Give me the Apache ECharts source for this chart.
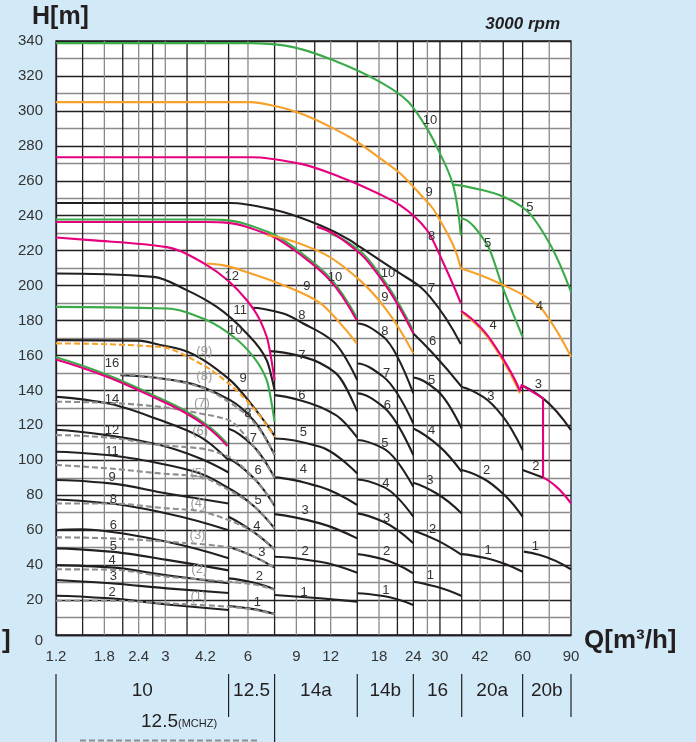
<!DOCTYPE html>
<html><head><meta charset="utf-8">
<script src="https://cdn.jsdelivr.net/npm/echarts@6/dist/echarts.min.js"></script>
<style>html,body{margin:0;padding:0;background:#d2eaf8;}#c{width:696px;height:742px;}</style>
</head><body><div id="c"></div>
<script>
// ---------- axis / grid data ----------
const Q_TICKS = [1.2,1.8,2.4,3,4.2,6,9,12,18,24,30,42,60,90];
const Q_TICK_LABELS = ['1.2','1.8','2.4','3','4.2','6','9','12','18','24','30','42','60','90'];
const Q_GRID_DARK = [1.5,2.1,2.7,3.6,5.1,7.5,10.5,15,21,24,30,36,51,60];
const Q_GRID_LIGHT = [1.8,2.4,3,4.2,6,9,12,18,27,42,75];
const FAMILY_NAMES = ['10','12.5','14a','14b','16','20a','20b'];
const FAMILY_BOUNDS = [1.2,5.1,7.5,15,24,36,60,90];

// ---------- curves [Q m3/h, H m] ----------
const F10_2 = [[1.2,22.5],[1.89,21],[3.04,17.5],[5.1,14.3]];
const F10_3 = [[1.2,31.5],[1.89,29.6],[3.04,26.7],[5.1,24]];
const F10_4 = [[1.2,40],[1.89,38.7],[3.04,34.2],[5.1,29.6]];
const F10_5 = [[1.2,49.6],[1.89,47.7],[3.04,43],[5.1,37]];
const F10_6 = [[1.2,60],[1.5,60.5],[1.89,59.1],[3.04,53.4],[5.1,44]];
const F10_8 = [[1.2,77.6],[1.89,75.3],[3.04,69.6],[5.1,60]];
const F10_9 = [[1.2,88.7],[1.89,86.8],[3.04,81],[5.1,75.3]];
const F10_11 = [[1.2,104.9],[1.84,103],[2.87,98.2],[4.02,92.5],[5.1,84]];
const F10_12 = [[1.2,117.5],[1.84,114.4],[2.87,108.7],[4.02,101],[5.1,93]];
const F10_14 = [[1.2,136.3],[1.84,132.6],[2.87,123],[4.02,113.4],[5.1,100]];
const F10_16G = [[1.2,159],[1.84,149],[2.87,135.5],[3.49,129],[4.25,120.3],[5.05,109.5]];
const F10_16P = [[1.2,157.7],[1.84,147.8],[2.87,134.4],[3.49,127.8],[4.25,119.2],[5.05,108.2]];

const F125_1 = [[5.1,16.6],[6.28,14.8],[7.5,12]];
const F125_2 = [[5.1,32.4],[6.28,30],[7.5,26.1]];
const F125_3 = [[5.1,50.5],[6.28,45],[7.5,38.6]];
const F125_4 = [[5.1,67.7],[6.28,59],[7.5,49]];
const F125_5 = [[5.1,84],[6.28,74],[7.5,61]];
const F125_6 = [[5.1,101],[6.28,90],[7.5,74]];
const F125_7 = [[5.1,118],[6.28,108],[7.5,90]];
const F125_8 = [[2.06,148.7],[3.49,144.9],[5.17,134.4],[6.28,123],[7.5,103]];
const F125_9 = [[1.2,168.8],[2.4,168.5],[2.87,166],[3.49,163],[5.17,145.9],[6.28,130.6],[7.5,114]];
const F125_10G = [[1.2,187.8],[3.04,186.9],[4.25,180.2],[5.31,170.7],[6.28,159.2],[7.02,145.9],[7.5,122]];
const F125_11 = [[1.2,206.9],[2.72,205],[3.59,197.4],[4.62,187.8],[5.94,172.6],[7.02,157.3],[7.5,140.2]];
const F125_12P = [[1.2,227.5],[1.6,226],[3.04,222],[4.25,211.7],[5.94,191.6],[7.02,170.7],[7.5,145.9]];

const MCHZ_1 = [[1.2,19.6],[1.89,19.6],[3.04,18.1],[5.1,16.2],[6.28,14.5],[7.5,11.8]];
const MCHZ_2 = [[1.2,37.6],[1.89,37.4],[3.04,33.4],[5.1,30.5],[6.28,29],[7.5,25.8]];
const MCHZ_3 = [[1.2,55.9],[1.89,55.3],[3.04,53.4],[5.1,50.2],[6.28,45],[7.5,38.5]];
const MCHZ_4 = [[1.2,75.3],[1.89,75.3],[3.04,72.5],[3.8,71.5],[5.1,65.8],[6.28,59],[7.5,49]];
const MCHZ_5 = [[1.2,97.3],[1.84,95.4],[2.87,92.5],[4.02,90.6],[5.1,83],[6.28,74],[7.5,61]];
const MCHZ_6 = [[1.2,114.4],[1.84,113.1],[2.87,108.7],[4.02,106.8],[5.1,102],[6.28,90],[7.5,74]];
const MCHZ_7 = [[1.2,133.5],[1.84,132.9],[2.87,130.6],[4.02,126.8],[5.1,123],[6.28,108],[7.5,90]];
const MCHZ_8 = [[2.06,149.3],[2.87,146.9],[4.02,142],[5.1,133.5],[6.28,122],[7.5,103]];
const MCHZ_9 = [[1.2,166.9],[2.87,164.9],[4.02,155.4],[5.1,144],[6.28,130],[7.5,113.4]];

const F14A_1 = [[7.5,22.9],[10.98,21],[15,19.1]];
const F14A_2 = [[7.5,44.8],[10.98,41.9],[15,35.6]];
const F14A_3 = [[7.5,69.2],[10.98,63.9],[15,55.3]];
const F14A_4 = [[7.5,90.2],[10.98,84.8],[15,74.4]];
const F14A_5 = [[7.5,112.5],[10.98,107.7],[15,92.5]];
const F14A_6 = [[7.5,137.3],[9.28,134.4],[12.5,126],[15,113]];
const F14A_7 = [[7.22,162.5],[9.54,159.2],[12.5,150],[15,128]];
const F14A_8 = [[6.2,187.3],[8.07,184],[9.54,178.3],[12.27,168],[15,146]];
const F14A_9O = [[4.25,212.6],[4.85,211.7],[6.11,207],[8.07,200.2],[11,190],[12.98,178.5],[14.93,167]];
const F14A_10G = [[1.2,237.8],[4.25,237.8],[4.85,237.6],[7.22,230.2],[9.54,217.8],[11.94,204.4],[14.95,181.6]];
const F14A_10P = [[1.2,236.4],[4.25,236.4],[4.85,236.2],[7.22,228.8],[9.54,216.4],[11.94,203],[14.93,180.2]];

const F14B_1 = [[15,23.9],[18.66,22.3],[24,17.2]];
const F14B_2 = [[15,46.3],[18.66,43.3],[24,35.3]];
const F14B_3 = [[15,69.6],[18.66,64.8],[24,52.5]];
const F14B_4 = [[15,89],[18.66,84.8],[24,67.7]];
const F14B_5 = [[15,111.6],[18.66,106.8],[24,84.8]];
const F14B_6 = [[15,138.3],[18.66,130.6],[24,103]];
const F14B_7 = [[15,155.4],[18.66,147.8],[24,121.1]];
const F14B_8 = [[15,178.3],[18.66,170.7],[24,138.3]];
const F14B_9O = [[7.02,228.8],[10.98,219.3],[15.35,203],[19.19,186],[24,161.2]];
const F14B_10G = [[11.94,229.5],[15.35,219.8],[19.19,200.8],[24,174]];
const F14B_10P = [[10.68,233.6],[15.35,218.4],[19.19,199.3],[24,172.6]];

const F16_1 = [[24,30.5],[29.17,27.6],[36,22.3]];
const F16_2 = [[24,59.7],[29.17,54.3],[36,45.8]];
const F16_3 = [[24,87.1],[29.17,81],[36,69.6]];
const F16_4 = [[24,118.2],[29.98,107.7],[36,93.4]];
const F16_5 = [[24,147.4],[29.17,140.2],[36,118.2]];
const F16_6 = [[24,172.6],[28.36,161],[36,142]];
const F16_7 = [[1.2,247.3],[5.17,247.3],[7.6,243.1],[10.98,234.5],[14.1,226],[15.35,222.1],[21.46,207],[25.4,199.3],[27.6,193.5],[35.75,166.5]];
const F16_8P = [[1.2,273.5],[6.2,273.5],[9.28,269.8],[12.98,262.2],[18.1,252.3],[21.46,246],[26.9,231.7],[30.9,212.8],[35.75,189.9]];
const F16_9O = [[1.2,305],[6.11,305],[7.6,302.6],[9.28,298.6],[12.27,290],[14.1,284.9],[18.6,271.7],[21.46,264.3],[26,250.6],[28.4,243.7],[30,237.4],[32.6,227.1],[34.1,220.3],[35.75,210]];
const F16_10G = [[1.2,338.8],[6.2,338.8],[7.85,337.8],[9.28,335.5],[12.27,329],[18.14,316.6],[22.75,306],[26.9,290],[29.98,275.7],[33.5,257.4],[34.9,243.1],[35.75,228.8]];

const F20A_1 = [[36,46.3],[44.35,43.9],[60,36.2]];
const F20A_2 = [[36,94.4],[43.1,89.6],[52.4,79],[60,67.7]];
const F20A_3 = [[36,142],[43.1,136.3],[50.96,124.9],[60,105.8]];
const F20A_4O = [[36,184.5],[43.1,173.5],[49.6,160],[57.65,141],[58.6,138.3]];
const F20A_4P = [[35.75,185.5],[43.1,174.5],[49.6,161],[57.65,142.5],[58.6,139.5]];
const F20A_5G = [[35.75,238.4],[44.35,224],[50.96,198.3],[60,170.7]];

const F20B_1 = [[60.6,47.7],[69.3,45.8],[90,37.6]];
const F20B_2 = [[60,94.4],[71.2,90.2]];
const F20B_3 = [[59.46,143],[71.2,135.4],[90,117.3]];
const F20B_4O = [[35.75,209.8],[49.6,201.2],[69.3,187.8],[73.3,183],[90,159.2]];
const F20B_5G = [[33.53,257.8],[43.1,254.6],[49.6,251.7],[62,243],[75.3,224],[90,196.4]];
const PINK_LINK = [[58.6,139.5],[59.46,143],[71.2,135.4],[71.2,90.2]];
const F20B_2P = [[71.2,90.2],[79.7,84.8],[90,75.3]];

// ---------- stage labels [Q, H, text] ----------
const LABELS_BLACK = [
 [1.92,155.4,'16'],[1.92,134.8,'14'],[1.92,116.9,'12'],[1.92,104.9,'11'],[1.92,90.2,'9'],[1.94,77.6,'8'],
 [1.94,62.9,'6'],[1.94,50.9,'5'],[1.92,42.9,'4'],[1.94,33.4,'3'],[1.92,24.2,'2'],
 [5.24,205,'12'],[5.62,185.5,'11'],[5.39,174.1,'10'],[5.76,147,'9'],[6.0,127,'8'],[6.28,112.7,'7'],
 [6.53,94.4,'6'],[6.53,77.2,'5'],[6.46,62,'4'],[6.74,47.1,'3'],[6.6,33.8,'2'],[6.49,18.5,'1'],
 [12.44,204.8,'10'],[9.82,199.3,'9'],[9.42,183.1,'8'],[9.42,160.2,'7'],[9.42,137.3,'6'],[9.54,115.7,'5'],
 [9.54,94.8,'4'],[9.68,71.1,'3'],[9.68,47.7,'2'],[9.6,24.2,'1'],
 [19.4,207.1,'10'],[18.92,193.5,'9'],[18.92,173.5,'8'],[19.19,149.7,'7'],[19.3,131.6,'6'],[18.92,109.8,'5'],
 [19.05,87,'4'],[19.19,66.9,'3'],[19.19,47.7,'2'],[19.05,25.7,'1'],
 [27.59,294.6,'10'],[27.4,253.6,'9'],[27.97,227.9,'8'],[27.97,198.3,'7'],[28.2,167.8,'6'],[27.97,145.9,'5'],
 [27.97,117.3,'4'],[27.59,88.7,'3'],[28.2,60.5,'2'],[27.7,34.3,'1'],
 [44.7,224.1,'5'],[46.86,177.3,'4'],[45.96,136.7,'3'],[44.35,94.4,'2'],[44.9,48.6,'1'],
 [63.7,245,'5'],[69,188.2,'4'],[68.4,143.6,'3'],[67,96.3,'2'],[66.8,50.9,'1']
];
const LABELS_GRAY = [
 [4.16,162.1,'(9)'],[4.16,147.8,'(8)'],[4.08,132.6,'(7)'],[4.02,116.3,'(6)'],[3.96,92.5,'(5)'],
 [3.96,75.3,'(4)'],[3.93,57.2,'(3)'],[3.99,37.6,'(2)'],[3.96,21.9,'(1)']
];

const BLACK='#231f20', GREEN='#3bab4a', PINK='#e6007e', ORANGE='#f7a12a', GRAY='#8e8e8e';
const FONT = '"Liberation Sans", Arial, sans-serif';

const CURVES = [
 [F10_2,BLACK],[F10_3,BLACK],[F10_4,BLACK],[F10_5,BLACK],[F10_6,BLACK],[F10_8,BLACK],[F10_9,BLACK],
 [F10_11,BLACK],[F10_12,BLACK],[F10_14,BLACK],
 [F125_1,BLACK],[F125_2,BLACK],[F125_3,BLACK],[F125_4,BLACK],[F125_5,BLACK],[F125_6,BLACK],[F125_7,BLACK],
 [F125_8,BLACK],[F125_9,BLACK],[F125_11,BLACK],
 [F14A_1,BLACK],[F14A_2,BLACK],[F14A_3,BLACK],[F14A_4,BLACK],[F14A_5,BLACK],[F14A_6,BLACK],[F14A_7,BLACK],[F14A_8,BLACK],
 [F14B_1,BLACK],[F14B_2,BLACK],[F14B_3,BLACK],[F14B_4,BLACK],[F14B_5,BLACK],[F14B_6,BLACK],[F14B_7,BLACK],[F14B_8,BLACK],
 [F16_1,BLACK],[F16_2,BLACK],[F16_3,BLACK],[F16_4,BLACK],[F16_5,BLACK],[F16_6,BLACK],[F16_7,BLACK],
 [F20A_1,BLACK],[F20A_2,BLACK],[F20A_3,BLACK],
 [F20B_1,BLACK],[F20B_2,BLACK],[F20B_3,BLACK],
 [MCHZ_1,GRAY,'d'],[MCHZ_2,GRAY,'d'],[MCHZ_3,GRAY,'d'],[MCHZ_4,GRAY,'d'],[MCHZ_5,GRAY,'d'],
 [MCHZ_6,GRAY,'d'],[MCHZ_7,GRAY,'d'],[MCHZ_8,GRAY,'d'],[MCHZ_9,ORANGE,'d'],
 [F10_16G,GREEN],[F10_16P,PINK],
 [F125_10G,GREEN],[F125_12P,PINK],
 [F14A_9O,ORANGE],[F14A_10G,GREEN],[F14A_10P,PINK],
 [F14B_9O,ORANGE],[F14B_10G,GREEN],[F14B_10P,PINK],
 [F16_8P,PINK],[F16_9O,ORANGE],[F16_10G,GREEN],
 [F20A_4O,ORANGE],[F20A_4P,PINK],[F20A_5G,GREEN],
 [F20B_4O,ORANGE],[F20B_5G,GREEN],
 [PINK_LINK,PINK,'s'],[F20B_2P,PINK]
];

// shape-preserving cubic (PCHIP) path through pixel points
function pchipPath(P){
  const n=P.length;
  let s='M'+P[0][0]+','+P[0][1];
  if(n===2) return s+'L'+P[1][0]+','+P[1][1];
  const h=[],d=[],m=new Array(n).fill(0);
  for(let i=0;i<n-1;i++){h.push(P[i+1][0]-P[i][0]); d.push((P[i+1][1]-P[i][1])/h[i]);}
  for(let i=1;i<n-1;i++){
    if(d[i-1]*d[i]>0){const w1=2*h[i]+h[i-1], w2=h[i]+2*h[i-1]; m[i]=(w1+w2)/(w1/d[i-1]+w2/d[i]);}
  }
  const endT=(h0,h1,d0,d1)=>{
    let t=((2*h0+h1)*d0-h0*d1)/(h0+h1);
    if(Math.sign(t)!==Math.sign(d0)) t=0;
    else if(Math.sign(d0)!==Math.sign(d1) && Math.abs(t)>Math.abs(3*d0)) t=3*d0;
    return t;
  };
  m[0]=endT(h[0],h[1],d[0],d[1]);
  m[n-1]=endT(h[n-2],h[n-3],d[n-2],d[n-3]);
  for(let i=0;i<n-1;i++){
    const x0=P[i][0],y0=P[i][1],x1=P[i+1][0],y1=P[i+1][1],k=h[i]/3;
    s+='C'+(x0+k)+','+(y0+m[i]*k)+','+(x1-k)+','+(y1-m[i+1]*k)+','+x1+','+y1;
  }
  return s;
}
function polyPath(P){return P.map((p,i)=>(i?'L':'M')+p[0]+','+p[1]).join('');}

const chart = echarts.init(document.getElementById('c'), null, {renderer:'canvas'});
const series = [];
// vertical grid lines
const gridData = Q_GRID_LIGHT.map(q=>[q,0]).concat(Q_GRID_DARK.map(q=>[q,1]));
series.push({
  type:'custom', z:1, silent:true, clip:false, data:gridData,
  renderItem:(p,api)=>{
    const q=api.value(0), dark=api.value(1);
    const a=api.coord([q,0]), b=api.coord([q,340]);
    return {type:'line', shape:{x1:a[0],y1:a[1],x2:b[0],y2:b[1]},
      style:{stroke: dark? BLACK:'#8a8a8a', lineWidth: 1.3}};
  }
});
// curves
series.push({
  type:'custom', z:3, silent:true, clip:false, data:CURVES.map(c=>c[0][0]),
  renderItem:(p,api)=>{
    const [d,col,kind]=CURVES[p.dataIndex];
    const P=d.map(v=>api.coord(v));
    return {type:'path', shape:{pathData: kind==='s'? polyPath(P) : pchipPath(P)},
      style:{fill:'none', stroke:col, lineWidth:2.1, lineDash: kind==='d'? [6,3] : null, lineJoin:'round'}};
  }
});
// stage labels
series.push({
  type:'custom', z:6, silent:true, clip:false, data:LABELS_BLACK.map(r=>[r[0],r[1]]),
  renderItem:(p,api)=>{
    const c=api.coord([api.value(0),api.value(1)]);
    return {type:'text', x:c[0], y:c[1], style:{text:LABELS_BLACK[p.dataIndex][2], fill:'#333',
      fontSize:13, fontFamily:FONT, align:'center', verticalAlign:'middle'}};
  }
});
series.push({
  type:'custom', z:6, silent:true, clip:false, data:LABELS_GRAY.map(r=>[r[0],r[1]]),
  renderItem:(p,api)=>{
    const c=api.coord([api.value(0),api.value(1)]);
    return {type:'text', x:c[0], y:c[1], style:{text:LABELS_GRAY[p.dataIndex][2], fill:'#9a9a9a',
      fontSize:13, fontFamily:FONT, align:'center', verticalAlign:'middle'}};
  }
});
// x tick labels
series.push({
  type:'custom', z:6, silent:true, clip:false, data:Q_TICKS.map(q=>[q,0]),
  renderItem:(p,api)=>{
    const c=api.coord([api.value(0),0]);
    return {type:'text', x:c[0], y:c[1]+22, style:{text:Q_TICK_LABELS[p.dataIndex], fill:'#333',
      fontSize:15, fontFamily:FONT, align:'center', verticalAlign:'middle'}};
  }
});
// family labels + separators
series.push({
  type:'custom', z:6, silent:true, clip:false, data:FAMILY_NAMES.map((n,i)=>[FAMILY_BOUNDS[i],FAMILY_BOUNDS[i+1]]),
  renderItem:(p,api)=>{
    const lo=api.value(0), hi=api.value(1);
    const a=api.coord([lo,0]), b=api.coord([hi,0]), m=api.coord([Math.sqrt(lo*hi),0]);
    const ch=[{type:'text', x:m[0], y:a[1]+56, style:{text:FAMILY_NAMES[p.dataIndex], fill:'#231f20',
        fontSize:19, fontFamily:FONT, align:'center', verticalAlign:'middle'}},
      {type:'line', shape:{x1:b[0],y1:a[1]+39,x2:b[0],y2:a[1]+82}, style:{stroke:'#231f20', lineWidth:1.2}}];
    if(p.dataIndex===0){
      ch.push({type:'line', shape:{x1:a[0],y1:a[1]+39,x2:a[0],y2:a[1]+110}, style:{stroke:'#231f20', lineWidth:1.2}});
    }
    if(p.dataIndex===1){
      ch.push({type:'line', shape:{x1:b[0],y1:a[1]+82,x2:b[0],y2:a[1]+110}, style:{stroke:'#231f20', lineWidth:1.2}});
    }
    return {type:'group', children:ch};
  }
});

chart.setOption({
  animation:false,
  backgroundColor:'#d2eaf8',
  grid:{left:56, right:125, top:41, bottom:107, show:true, backgroundColor:'#fff', borderColor:BLACK, borderWidth:1.3},
  xAxis:{type:'log', logBase:10, min:1.2, max:90, axisLabel:{show:false}, axisTick:{show:false},
    splitLine:{show:false}, minorSplitLine:{show:false}, axisLine:{show:true, lineStyle:{color:BLACK, width:1.3}}},
  yAxis:{type:'value', min:0, max:340, interval:10,
    axisLine:{show:true, lineStyle:{color:BLACK, width:1.3}}, axisTick:{show:false},
    axisLabel:{color:'#333', fontSize:15, fontFamily:FONT, margin:13,
      formatter:v=> (v===0 ? '{z|0}' : (v%20===0 ? String(v) : '')),
      rich:{z:{fontSize:15, fontFamily:FONT, color:'#333', padding:[12,0,0,0]}}},
    splitLine:{show:true, lineStyle:{color:[BLACK,'#8a8a8a'], width:1.3}}},
  graphic:[
    {type:'text', left:32, top:5, style:{text:'H[m]', fontSize:25, fontWeight:'bold', fontFamily:FONT, fill:'#231f20'}},
    {type:'text', right:136, top:16, style:{text:'3000 rpm', fontSize:17, fontWeight:'bold', fontStyle:'italic', fontFamily:FONT, fill:'#231f20'}},
    {type:'text', left:584, top:628, style:{text:'Q[m³/h]', fontSize:26, fontWeight:'bold', fontFamily:FONT, fill:'#231f20'}},
    {type:'text', left:2, top:628, style:{text:']', fontSize:26, fontWeight:'bold', fontFamily:FONT, fill:'#231f20'}},
    {type:'text', left:141, top:712, style:{text:'{a|12.5}{b|(MCHZ)}', rich:{a:{fontSize:19, fontFamily:FONT, fill:'#231f20'}, b:{fontSize:11, fontFamily:FONT, fill:'#231f20', padding:[5,0,0,0]}}}},
    {type:'line', shape:{x1:80,y1:740.5,x2:257,y2:740.5}, style:{stroke:'#8e8e8e', lineWidth:2, lineDash:[6,3]}}
  ],
  series
});
</script></body></html>
